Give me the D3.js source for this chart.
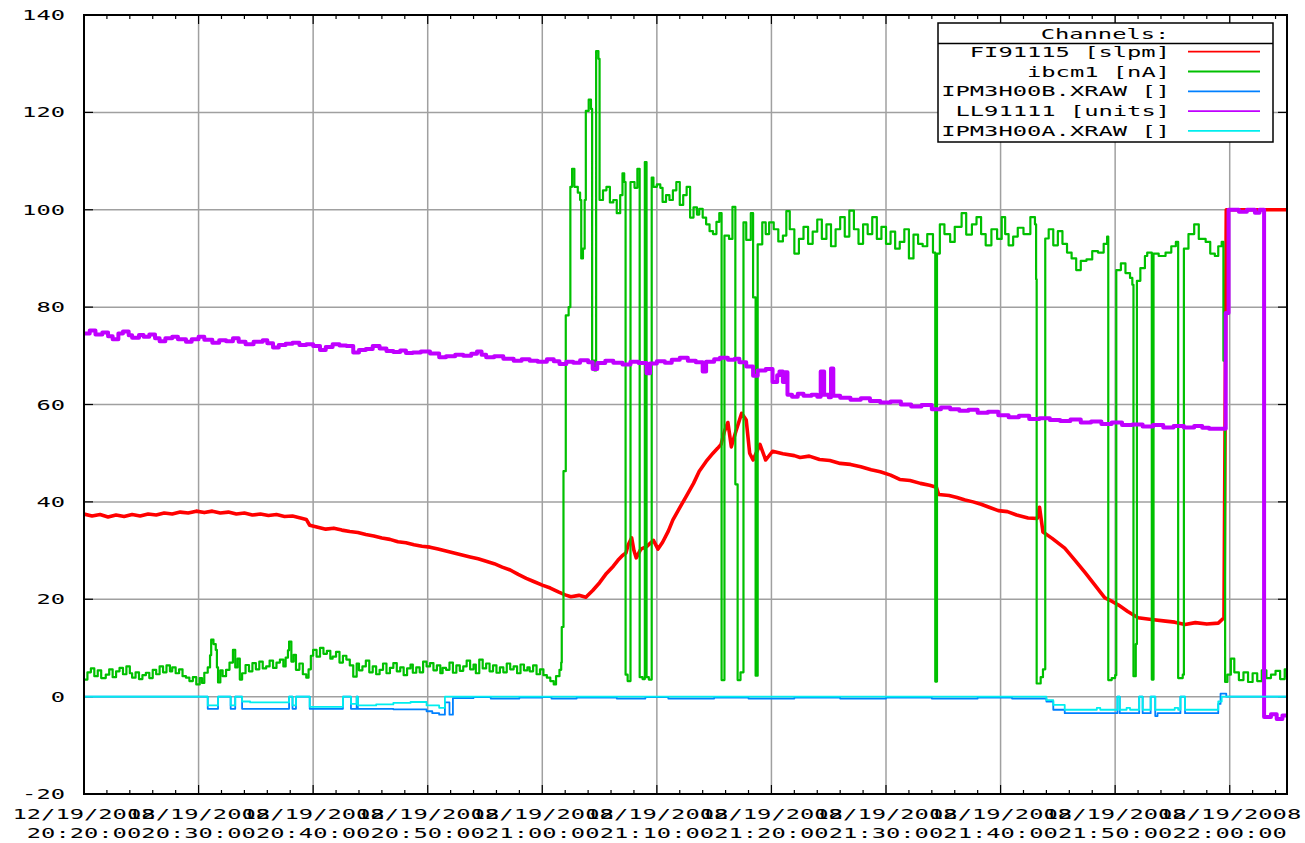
<!DOCTYPE html>
<html>
<head>
<meta charset="utf-8">
<script src="https://cdn.jsdelivr.net/npm/d3@7"></script>
<style>
  body { margin: 0; background: #fff; }
  text { font-family: "DejaVu Sans Mono", monospace; font-size: 14px; fill: #000; }
</style>
</head>
<body>
<svg id="chart" width="1305" height="843"></svg>
<script>
// minutes after 12/19/2008 20:20:00, value
const fi91115 = [
  [0,37.5],[0.7,37.1],[1.4,37.4],[2.1,36.9],[2.8,37.3],[3.5,37.0],[4.2,37.4],[4.9,37.1],[5.6,37.5],[6.3,37.3],
  [7.0,37.7],[7.7,37.5],[8.4,37.9],[9.1,37.7],[9.8,38.1],[10.5,37.8],[11.2,38.1],[11.9,37.7],[12.6,37.9],[13.3,37.5],
  [14.0,37.7],[14.7,37.3],[15.4,37.5],[16.1,37.2],[16.8,37.4],[17.5,37.0],[18.2,37.1],[18.9,36.7],[19.4,36.4],[19.7,35.2],
  [20.4,34.8],[21.1,34.4],[21.8,34.6],[22.5,34.2],[23.2,33.9],[23.9,33.7],[24.6,33.3],[25.3,33.0],[26.0,32.6],[26.7,32.3],
  [27.4,31.8],[28.1,31.6],[28.8,31.2],[29.5,30.9],[30.2,30.7],[30.9,30.3],[31.6,29.9],[32.3,29.5],[33.0,29.1],[33.7,28.7],
  [34.4,28.3],[35.1,27.8],[35.8,27.3],[36.5,26.6],[37.2,26.0],[37.9,25.1],[38.6,24.3],[39.3,23.6],[40.0,22.9],[40.7,22.3],
  [41.4,21.5],[42.0,20.9],[42.5,20.5],[43.2,20.8],[43.8,20.4],[44.4,21.8],[45.0,23.4],[45.6,25.3],[46.2,26.8],[46.6,28.0],
  [47.0,29.0],[47.3,29.5],[47.5,31.2],[47.8,32.6],[48.0,30.0],[48.2,28.5],[48.6,30.3],[49.1,30.8],[49.7,32.1],[50.1,30.3],
  [50.5,31.7],[51.0,34.0],[51.4,36.3],[52.0,38.8],[52.6,41.3],[53.2,43.8],[53.7,46.3],[54.3,48.3],[54.9,50.0],[55.3,51.0],
  [55.6,51.8],[55.9,54.5],[56.2,56.3],[56.5,51.3],[56.9,54.5],[57.4,58.2],[57.8,56.8],[58.1,50.0],[58.4,48.6],[59.0,51.8],
  [59.5,48.6],[60.1,50.4],[61.0,49.9],[62.0,49.5],[62.5,49.1],[63.3,49.4],[64.2,48.7],[65.1,48.5],[66.0,47.9],[66.9,47.7],
  [67.8,47.2],[68.7,46.6],[69.5,46.2],[70.4,45.5],[71.2,44.6],[72.1,44.4],[73.0,43.8],[73.8,43.4],[74.4,43.0],[74.6,41.5],
  [75.5,41.3],[76.2,40.9],[76.9,40.4],[77.6,40.0],[78.3,39.5],[79.0,38.9],[79.8,38.2],[80.6,38.0],[81.4,37.3],[82.4,36.7],
  [83.2,36.6],[83.4,38.9],[83.7,33.8],[84.5,32.5],[85.6,30.5],[86.5,28.0],[87.4,25.4],[88.2,23.0],[89.1,20.3],[89.7,19.6],
  [90.3,18.8],[91.1,17.5],[92.0,16.2],[93.0,15.9],[94.4,15.5],[95.2,15.3],[96.1,14.8],[97.0,15.2],[98.0,14.9],[99.0,15.1],
  [99.5,16.2],[99.7,100],[105,100]
];

const ibcm1 = [
  [0,3.5],[0.3,5.0],[0.6,5.8],[0.9,4.2],[1.2,5.4],[1.5,3.8],[1.9,4.5],[2.2,5.6],[2.5,4.0],[2.8,5.2],
  [3.1,5.9],[3.4,4.6],[3.7,6.2],[4.0,4.8],[4.2,3.9],[4.5,5.0],[4.8,3.6],[5.1,4.4],[5.4,4.9],[5.7,3.8],
  [6.0,5.5],[6.3,4.6],[6.6,6.2],[6.9,5.0],[7.2,6.4],[7.5,5.2],[7.7,6.0],[8.0,4.8],[8.3,5.6],[8.6,4.2],
  [8.9,3.9],[9.2,3.2],[9.5,4.0],[9.8,2.5],[10.1,3.8],[10.3,2.8],[10.5,4.9],[10.8,6.0],[11.0,8.5],[11.1,11.7],
  [11.3,10.8],[11.5,9.6],[11.6,6.0],[11.7,2.9],[11.9,5.4],[12.1,4.2],[12.4,5.5],[12.7,7.0],[13.0,9.6],[13.2,6.0],
  [13.4,7.8],[13.6,3.5],[13.8,4.8],[14.1,6.5],[14.4,5.2],[14.7,6.9],[15.0,5.6],[15.3,7.2],[15.6,5.8],[15.9,6.2],
  [16.2,7.4],[16.5,5.9],[16.8,7.0],[17.1,7.6],[17.4,6.2],[17.6,8.0],[17.8,9.5],[17.9,11.3],[18.1,7.2],[18.3,8.6],
  [18.5,5.5],[18.8,6.8],[19.1,4.6],[19.4,3.9],[19.6,5.6],[19.8,8.4],[20.0,9.6],[20.3,8.2],[20.6,10.0],[20.9,8.8],
  [21.2,9.4],[21.5,7.8],[21.7,8.2],[22.0,9.2],[22.3,7.0],[22.6,8.4],[22.9,7.6],[23.2,6.4],[23.5,4.1],[23.8,6.8],
  [24.0,5.4],[24.3,6.2],[24.6,7.4],[24.9,5.0],[25.2,6.2],[25.5,4.6],[25.8,5.5],[26.1,6.8],[26.4,4.8],[26.7,5.9],
  [27.0,6.9],[27.3,5.2],[27.6,6.0],[27.9,4.4],[28.2,5.8],[28.5,6.6],[28.7,4.9],[29.0,6.0],[29.3,5.0],[29.6,7.2],
  [29.9,6.2],[30.2,6.9],[30.5,5.4],[30.8,6.4],[31.1,4.8],[31.3,5.9],[31.6,5.5],[31.9,7.0],[32.2,4.9],[32.5,6.4],
  [32.8,5.3],[33.1,6.2],[33.4,7.4],[33.7,5.6],[34.0,6.6],[34.2,4.8],[34.5,7.6],[34.8,5.8],[35.1,6.8],[35.4,5.2],
  [35.7,6.4],[36.0,4.9],[36.3,6.0],[36.6,5.0],[36.9,6.8],[37.2,5.6],[37.5,6.2],[37.8,4.8],[38.1,6.6],[38.4,5.4],
  [38.7,6.0],[38.9,5.2],[39.2,6.4],[39.5,4.6],[39.8,5.6],[40.1,4.4],[40.4,3.9],[40.7,3.2],[41.0,2.5],[41.2,4.2],
  [41.5,5.5],[41.65,7.0],[41.7,14.3],[41.85,46.3],[42.05,78.3],[42.3,80.0],[42.45,104.7],[42.6,108.4],[42.8,104.7],[43.1,103.5],
  [43.3,102.0],[43.4,90.0],[43.55,92.0],[43.7,102.0],[43.8,120.3],[44.05,122.6],[44.25,120.7],[44.35,69.0],[44.55,67.0],[44.7,132.6],
  [44.9,131.0],[45.0,102.0],[45.3,104.0],[45.6,104.7],[45.9,101.5],[46.2,102.0],[46.5,99.3],[46.8,103.0],[47.0,107.5],[47.15,105.7],
  [47.27,4.5],[47.45,3.2],[47.7,105.7],[48.05,104.5],[48.3,108.4],[48.5,4.0],[48.75,3.6],[48.95,109.8],[49.1,4.0],[49.3,3.5],
  [49.55,106.6],[49.7,104.7],[50.0,105.2],[50.3,104.5],[50.5,101.6],[50.8,103.0],[51.1,102.0],[51.4,104.0],[51.7,105.7],[52.0,101.0],
  [52.3,103.0],[52.6,104.7],[52.9,98.4],[53.2,100.5],[53.5,99.0],[53.7,100.2],[54.0,98.4],[54.3,97.0],[54.6,95.6],[54.9,95.0],
  [55.2,97.5],[55.45,99.3],[55.65,3.4],[55.9,94.7],[56.3,94.0],[56.6,100.6],[56.85,43.6],[57.05,3.4],[57.3,5.0],[57.56,97.4],
  [57.8,93.8],[58.2,99.3],[58.4,82.0],[58.62,4.3],[58.8,92.9],[59.2,97.4],[59.5,95.0],[59.8,97.4],[60.2,96.0],[60.6,93.5],
  [61.0,94.7],[61.3,99.7],[61.6,96.0],[62.0,91.0],[62.4,94.0],[62.8,96.5],[63.2,93.0],[63.6,95.5],[64.0,98.0],[64.4,94.0],
  [64.8,97.0],[65.2,92.5],[65.6,96.0],[66.0,98.5],[66.4,94.5],[66.8,99.8],[67.2,96.0],[67.6,93.0],[68.0,97.0],[68.4,95.0],
  [68.8,98.5],[69.2,94.0],[69.6,96.5],[70.0,93.0],[70.4,95.5],[70.8,92.0],[71.2,93.4],[71.6,96.0],[72.0,90.0],[72.4,94.9],
  [72.8,93.0],[73.2,92.5],[73.6,95.0],[74.1,91.2],[74.3,3.1],[74.45,91.0],[74.7,97.0],[75.1,95.0],[75.6,93.4],[76.0,96.5],
  [76.6,99.3],[77.0,94.9],[77.5,97.0],[77.9,98.5],[78.3,95.0],[78.7,92.7],[79.2,96.0],[79.7,94.0],[80.1,98.5],[80.4,95.0],
  [80.7,92.7],[81.1,94.5],[81.5,96.3],[82.0,95.0],[82.6,98.5],[83.0,97.0],[83.1,85.7],[83.15,2.7],[83.5,4.0],[83.7,5.6],
  [83.9,94.1],[84.2,96.0],[84.6,92.7],[85.0,95.6],[85.4,93.0],[85.8,91.2],[86.2,90.0],[86.6,87.6],[87.0,89.5],[87.5,89.8],
  [88.0,91.5],[88.5,91.2],[89.0,93.0],[89.3,94.5],[89.4,3.4],[89.7,3.8],[90.0,4.4],[90.1,87.6],[90.5,89.0],[90.9,87.0],
  [91.3,86.0],[91.5,84.6],[91.6,4.2],[91.8,10.8],[91.9,85.4],[92.2,88.0],[92.6,90.5],[92.8,91.2],[93.2,3.5],[93.35,91.0],
  [93.8,90.5],[94.4,91.2],[94.9,92.5],[95.3,93.4],[95.5,3.8],[95.9,4.5],[96.0,92.0],[96.4,95.0],[96.9,97.0],[97.3,94.0],
  [97.9,93.4],[98.3,91.0],[98.7,90.5],[99.0,92.5],[99.3,93.4],[99.45,69.0],[99.6,3.0],[99.8,4.5],[100.1,7.8],[100.4,5.0],
  [100.8,3.4],[101.2,5.0],[101.6,3.0],[102.0,4.8],[102.4,3.2],[102.8,5.4],[103.2,3.8],[103.6,4.5],[104.0,5.3],[104.4,3.6],
  [104.8,5.6],[105,4.0]
];

const ipm3h00b = [
  [0,0],[10.8,-2.5],[11.7,0],[12.8,-2.5],[13.2,0],[13.8,-2.5],[17.9,0],[18.2,-2.5],[18.5,0],[19.7,-2.5],
  [22.6,0],[23.3,-2.5],[23.8,0],[23.9,-2.5],[27.0,-2.6],[29.9,-3.0],[30.4,-3.4],[31.0,-3.7],[31.5,-1.2],[31.9,-3.7],
  [32.2,-0.3],[34.0,-0.1],[35.5,-0.4],[38.0,-0.2],[40.0,-0.1],[40.8,-0.4],[43.0,-0.2],[46.5,-0.4],[49.0,-0.1],[51.0,-0.4],
  [55.0,-0.2],[58.0,-0.4],[62.0,-0.2],[66.0,-0.4],[70.0,-0.2],[74.0,-0.4],[78.0,-0.2],[81.0,-0.4],[84.0,-1.0],[84.6,-2.7],
  [85.6,-3.4],[90.2,0],[90.4,-3.4],[92.1,0],[92.4,-3.4],[93.1,0],[93.5,-4.0],[93.7,-3.4],[95.7,0],[96.1,-3.4],
  [99.0,-1.5],[99.2,0.6],[99.7,0],[105,0]
];

const ll91111 = [
  [0,74.6],[0.5,75.2],[1,74.4],[1.6,74.8],[2.1,74.0],[2.5,73.4],[3.0,74.6],[3.4,75.0],[3.9,74.2],[4.2,73.7],
  [4.8,74.3],[5.2,73.9],[5.7,74.4],[6.2,73.6],[6.6,73.0],[7.1,73.6],[7.7,73.9],[8.2,73.4],[8.9,72.9],[9.4,73.4],
  [10.0,73.9],[10.5,73.3],[11.2,72.7],[11.8,73.2],[12.4,73.0],[13.0,73.6],[13.5,72.9],[14.1,72.4],[14.8,72.9],[15.6,73.2],
  [16.0,72.6],[16.5,71.7],[17.0,72.2],[17.6,72.5],[18.2,72.7],[18.8,72.2],[19.4,72.4],[20.0,72.0],[20.6,71.2],[21.1,71.8],
  [21.7,72.4],[22.3,72.1],[22.9,72.0],[23.5,70.7],[24.0,71.2],[24.6,71.4],[25.2,72.0],[25.8,71.5],[26.4,71.0],[27.0,70.8],
  [27.6,71.1],[28.1,70.6],[28.7,70.7],[29.4,70.9],[30.2,70.5],[31.0,69.7],[31.6,69.9],[32.4,70.2],[33.1,70.0],[33.8,70.4],
  [34.3,70.9],[34.7,70.2],[35.1,69.7],[35.8,69.9],[36.6,69.4],[37.5,69.0],[38.2,69.3],[38.9,69.0],[39.6,68.8],[40.4,69.3],
  [41.0,68.9],[41.5,68.3],[42.1,68.8],[42.7,68.6],[43.3,69.1],[44.0,68.7],[44.4,67.3],[44.8,68.5],[45.5,69.0],[46.2,68.6],
  [47.0,68.2],[47.7,68.8],[48.4,68.5],[49.1,66.4],[49.4,68.4],[50.0,68.9],[50.7,68.6],[51.3,69.2],[52.0,69.6],[52.7,69.0],
  [53.4,68.7],[54.0,66.8],[54.3,68.8],[55.0,69.3],[55.5,69.6],[56.2,69.2],[56.8,69.4],[57.2,68.7],[57.8,67.8],[58.4,65.9],
  [58.8,67.0],[59.5,67.3],[60.1,64.6],[60.5,66.0],[60.7,66.8],[61.0,64.6],[61.2,66.6],[61.4,62.0],[61.8,61.6],[62.3,62.2],
  [62.8,61.8],[63.5,62.0],[64.0,61.6],[64.3,66.8],[64.6,62.0],[65.0,61.5],[65.2,67.4],[65.4,61.8],[66.0,61.4],[66.9,61.0],
  [67.8,61.3],[68.6,60.7],[69.5,60.4],[70.4,60.6],[71.3,60.0],[72.2,59.6],[73.1,59.9],[74.0,59.0],[74.8,59.4],[75.6,59.0],
  [76.4,58.7],[77.2,58.9],[78.0,58.3],[78.9,58.5],[79.8,57.8],[80.7,57.4],[81.6,57.7],[82.5,57.0],[83.4,57.2],[84.3,56.8],
  [85.2,56.6],[86.1,56.9],[87.0,56.3],[87.9,56.5],[88.8,56.0],[89.7,56.3],[90.6,55.8],[91.5,55.9],[92.4,55.5],[93.3,55.8],
  [94.2,55.3],[95.1,55.6],[96.0,55.3],[96.9,55.6],[97.6,55.2],[98.2,55.0],[99.0,55.0],[99.65,78.8],[99.9,100],[100.8,99.6],
  [101.5,100],[102.2,99.4],[102.6,100],[103.0,-4.2],[103.6,-3.6],[104.1,-4.6],[104.6,-3.9],[105,-4.2]
];

const ipm3h00a = [
  [0,0],[10.8,-1.8],[11.7,0],[12.8,-1.8],[13.2,0],[13.8,-1.0],[14.5,-1.2],[17.9,0],[18.2,-1.8],[18.5,0],
  [19.7,-2.1],[22.6,0],[23.3,-1.5],[23.8,0],[23.9,-1.8],[25.5,-1.6],[27.0,-1.3],[28.5,-1.1],[29.9,-1.8],[31.0,-2.3],
  [31.5,0],[84.0,-0.7],[84.6,-1.7],[85.6,-2.7],[88.4,-2.3],[88.7,-2.7],[90.2,0],[90.4,-2.7],[91.0,-2.3],[91.3,-2.7],
  [92.1,0],[92.4,-2.7],[93.1,0],[93.5,-2.7],[95.2,-2.3],[95.5,-2.7],[95.7,0],[96.1,-2.7],[99.0,-1.0],[99.3,0],[105,0]
];

const channels = [
  {name: "FI91115 [slpm]",   color: "#ff0000", width: 3.6, step: false, data: fi91115},
  {name: "ibcm1 [nA]",       color: "#00c000", width: 2.2, step: true,  data: ibcm1},
  {name: "IPM3H00B.XRAW []", color: "#0080ff", width: 1.8, step: true,  data: ipm3h00b},
  {name: "LL91111 [units]",  color: "#c000ff", width: 4,   step: true,  data: ll91111},
  {name: "IPM3H00A.XRAW []", color: "#00eeee", width: 1.8, step: true,  data: ipm3h00a}
];

const yTicks = [-20, 0, 20, 40, 60, 80, 100, 120, 140];

const CHAR = 14.3; // stretched mono glyph advance
const plotL = 84, plotR = 1287, plotT = 15, plotB = 794;

const t0 = new Date(2008, 11, 19, 20, 20);
const tEnd = new Date(2008, 11, 19, 22, 5);
const toDate = m => new Date(t0.getTime() + m * 60000);

const svg = d3.select("#chart");

const x = d3.scaleTime().domain([t0, tEnd]).range([plotL, plotR]);
const y = d3.scaleLinear().domain([-20, 140]).range([plotB, plotT]);

function label(g, str, px, py, anchor) {
  return g.append("text")
    .attr("x", px).attr("y", py)
    .attr("text-anchor", anchor)
    .attr("textLength", str.length * CHAR)
    .attr("lengthAdjust", "spacingAndGlyphs")
    .text(str);
}

const majorX = d3.timeMinute.every(10).range(t0, new Date(2008, 11, 19, 22, 0, 1));
const minorX = d3.timeMinute.every(2).range(t0, tEnd);

// grid
const grid = svg.append("g").attr("stroke", "#a0a0a0").attr("stroke-width", 1.5);
majorX.filter(d => x(d) > plotL + 1).forEach(d => {
  grid.append("line").attr("x1", x(d)).attr("x2", x(d)).attr("y1", plotT).attr("y2", plotB);
});
yTicks.filter(v => v > -20 && v < 140).forEach(v => {
  grid.append("line").attr("x1", plotL).attr("x2", plotR).attr("y1", y(v)).attr("y2", y(v));
});

// ticks (mirrored)
const ticks = svg.append("g").attr("stroke", "#000").attr("stroke-width", 1.2);
minorX.forEach(d => {
  const major = d.getMinutes() % 10 === 0;
  const len = major ? 9 : 4;
  ticks.append("line").attr("x1", x(d)).attr("x2", x(d)).attr("y1", plotB).attr("y2", plotB - len);
  ticks.append("line").attr("x1", x(d)).attr("x2", x(d)).attr("y1", plotT).attr("y2", plotT + len);
});
yTicks.forEach(v => {
  ticks.append("line").attr("x1", plotL).attr("x2", plotL + 9).attr("y1", y(v)).attr("y2", y(v));
  ticks.append("line").attr("x1", plotR).attr("x2", plotR - 9).attr("y1", y(v)).attr("y2", y(v));
});

// series
svg.append("clipPath").attr("id", "plot")
  .append("rect").attr("x", plotL).attr("y", plotT).attr("width", plotR - plotL).attr("height", plotB - plotT);

const line = d3.line()
  .x(d => x(toDate(d[0])))
  .y(d => y(d[1]));

const series = svg.append("g").attr("clip-path", "url(#plot)");
channels.forEach(c => {
  series.append("path")
    .datum(c.data)
    .attr("fill", "none")
    .attr("stroke", c.color)
    .attr("stroke-width", c.width)
    .attr("stroke-linejoin", "round")
    .attr("d", line.curve(c.step ? d3.curveStepAfter : d3.curveLinear));
});

// frame
svg.append("rect")
  .attr("x", plotL).attr("y", plotT).attr("width", plotR - plotL).attr("height", plotB - plotT)
  .attr("fill", "none").attr("stroke", "#000").attr("stroke-width", 2);

// axis labels
const labels = svg.append("g");
yTicks.forEach(v => label(labels, String(v), 65, y(v) + 5, "end"));
const fmtDate = d3.timeFormat("%m/%d/%Y"), fmtTime = d3.timeFormat("%H:%M:%S");
majorX.forEach(d => {
  label(labels, fmtDate(d), x(d), 819, "middle");
  label(labels, fmtTime(d), x(d), 838, "middle");
});

// legend
const lg = svg.append("g");
lg.append("rect").attr("x", 938).attr("y", 23).attr("width", 335).attr("height", 119)
  .attr("fill", "#fff").attr("stroke", "#000").attr("stroke-width", 1.5);
lg.append("line").attr("x1", 938).attr("x2", 1273).attr("y1", 43.5).attr("y2", 43.5)
  .attr("stroke", "#000").attr("stroke-width", 1.5);
label(lg, "Channels:", 1105, 38.5, "middle");
channels.forEach((c, i) => {
  const cy = 51.7 + i * 19.8;
  label(lg, c.name, 1170, cy + 5, "end");
  lg.append("line").attr("x1", 1188).attr("x2", 1260).attr("y1", cy).attr("y2", cy)
    .attr("stroke", c.color).attr("stroke-width", 1.8);
});
</script>
</body>
</html>
